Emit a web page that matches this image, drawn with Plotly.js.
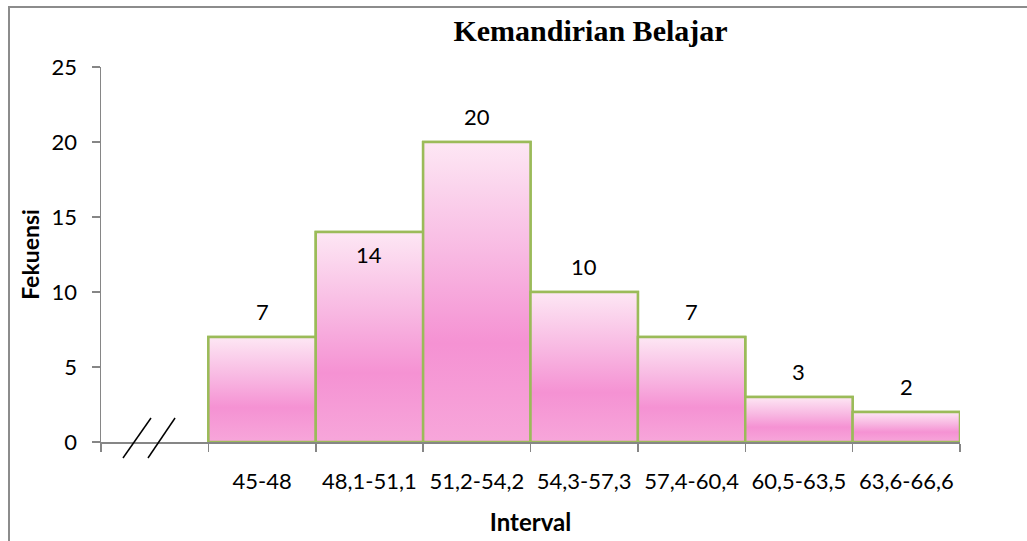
<!DOCTYPE html>
<html>
<head>
<meta charset="utf-8">
<script src="https://cdn.plot.ly/plotly-3.0.1.min.js"></script>
<style>html,body{margin:0;padding:0;background:#fff;}#chart{width:1027px;height:541px;}</style>
</head>
<body>
<div id="chart"></div>
<script>
// Data
const categories = ['', '45-48', '48,1-51,1', '51,2-54,2', '54,3-57,3', '57,4-60,4', '60,5-63,5', '63,6-66,6'];
const frequencies = [null, 7, 14, 20, 10, 7, 3, 2];
const yTicks = [0, 5, 10, 15, 20, 25];
const chartTitle = 'Kemandirian Belajar';
const xTitle = 'Interval';
const yTitle = 'Fekuensi';

const idx = categories.map((c, i) => i);
const boundaries = categories.map((c, i) => i - 0.5).concat([categories.length - 0.5]);

const gradient = [[0, '#f7a6da'], [0.33, '#f592d3'], [0.62, '#f8b8e2'], [1, '#fde7f4']];
const outline = '#9bbb59';
const traces = [];
// bar trace (base, data-driven)
traces.push({
  type: 'bar', x: idx, y: frequencies, width: 1,
  marker: {color: '#f7a6da', line: {color: outline, width: 2.5}},
  hoverinfo: 'skip', showlegend: false
});
// gradient fill + outline per bar, built from the same arrays
idx.forEach(i => {
  const v = frequencies[i];
  if (v == null) return;
  traces.push({
    type: 'scatter', mode: 'lines',
    x: [i - 0.5, i - 0.5, i + 0.5, i + 0.5, i - 0.5],
    y: [0, v, v, 0, 0],
    fill: 'toself',
    fillgradient: {type: 'vertical', colorscale: gradient},
    line: {width: 2.5, color: outline},
    cliponaxis: false,
    hoverinfo: 'skip', showlegend: false
  });
});

const labelFont = {family: 'Lato, "Open Sans", sans-serif', size: 22, color: '#000'};
const annotations = idx.filter(i => frequencies[i] != null).map(i => ({
  x: i, y: frequencies[i], xref: 'x', yref: 'y',
  text: String(frequencies[i]), showarrow: false,
  yshift: frequencies[i] === 14 ? -22 : 26,
  font: labelFont
}));

const gray = '#868686';
const shapes = [
  // outer chart frame
  {type: 'rect', xref: 'paper', yref: 'paper', x0: -0.1071, x1: 1.09, y0: -0.28, y1: 1.16,
   line: {color: '#8c8c8c', width: 2}, fillcolor: 'rgba(0,0,0,0)', layer: 'below'},
  // axis break marks
  {type: 'line', xref: 'paper', yref: 'paper', x0: 0.0256, y0: -0.0427, x1: 0.0582, y1: 0.064, line: {color: '#000', width: 1.5}},
  {type: 'line', xref: 'paper', yref: 'paper', x0: 0.0547, y0: -0.0427, x1: 0.0862, y1: 0.064, line: {color: '#000', width: 1.5}}
];

const layout = {
  width: 1027, height: 541,
  margin: {l: 101, r: 67, t: 67, b: 99},
  paper_bgcolor: '#fff', plot_bgcolor: '#fff',
  title: {text: '<b>' + chartTitle + '</b>', xref: 'container', yref: 'container',
          x: 0.575, xanchor: 'center', y: 0.943, yanchor: 'middle',
          font: {family: '"Liberation Serif", "Times New Roman", serif', size: 30, color: '#000'}},
  xaxis: {
    range: [-0.5, categories.length - 0.5], fixedrange: true,
    tickmode: 'array', tickvals: idx, ticktext: categories, ticks: '',
    ticklabelstandoff: 19,
    tickfont: labelFont,
    minor: {tickmode: 'array', tickvals: boundaries, ticks: 'outside', ticklen: 8, tickcolor: gray, tickwidth: 1.5, showgrid: false},
    showline: true, linecolor: gray, linewidth: 1.5, showgrid: false, zeroline: false,
    title: {text: '<b>' + xTitle + '</b>', standoff: 21, font: {family: 'Lato, "Open Sans", sans-serif', size: 24, color: '#000'}}
  },
  yaxis: {
    range: [0, 25], fixedrange: true,
    tickmode: 'array', tickvals: yTicks, ticks: 'outside', ticklen: 8, tickcolor: gray, tickwidth: 1.5,
    ticklabelstandoff: 10,
    tickfont: labelFont,
    showline: true, linecolor: gray, linewidth: 1.5, showgrid: false, zeroline: false,
    title: {text: '<b>' + yTitle + '</b>', standoff: 5, font: {family: 'Lato, "Open Sans", sans-serif', size: 23, color: '#000'}}
  },
  annotations: annotations,
  shapes: shapes,
  showlegend: false,
  bargap: 0
};

Plotly.newPlot('chart', traces, layout, {staticPlot: true, displayModeBar: false});
</script>
</body>
</html>
